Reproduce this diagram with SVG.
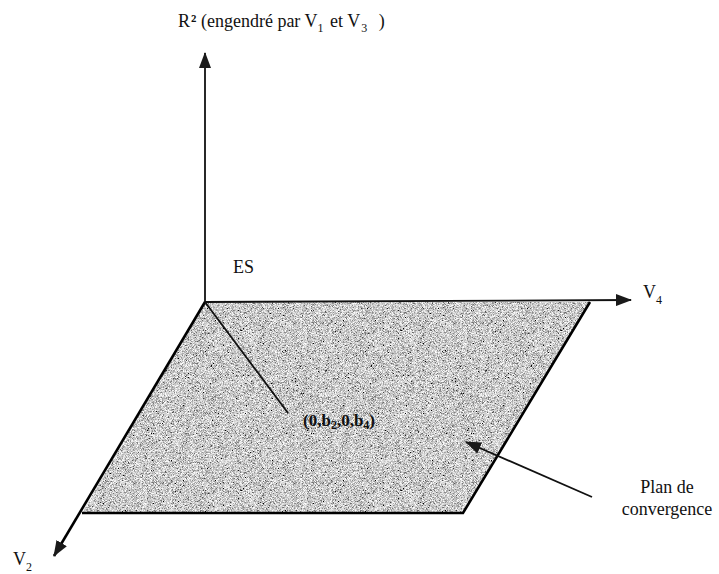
<svg xmlns="http://www.w3.org/2000/svg" width="719" height="574" viewBox="0 0 719 574">
<style>
  .t { font-family: "Liberation Serif", "Times New Roman", serif; font-size: 18px; fill: #111; }
  .sub { font-size: 12px; }
  .lbl { font-family: "Liberation Serif", "Times New Roman", serif; font-size: 17px; font-weight: bold; fill: #111; }
  .ax { stroke: #111; stroke-width: 1.8; fill: none; }
  .edge { stroke: #000; stroke-width: 2.6; fill: none; }
</style>
<defs>
  <marker id="ah" viewBox="0 0 16 12" refX="15" refY="6" markerWidth="16" markerHeight="12" markerUnits="userSpaceOnUse" orient="auto">
    <path d="M0,0 L16,6 L0,12 z" fill="#1a1a1a"/>
  </marker>
  <filter id="grain" x="0" y="0" width="100%" height="100%">
    <feTurbulence type="fractalNoise" baseFrequency="1.6" numOctaves="2" seed="7" result="n"/>
    <feColorMatrix in="n" type="matrix" values="1.9 0 0 0 -0.36  1.9 0 0 0 -0.36  1.9 0 0 0 -0.36  0 0 0 0 1" result="g"/>
    <feComposite in="g" in2="SourceGraphic" operator="in"/>
  </filter>
</defs>

<g id="plan">
  <polygon points="205,302 590,302 463,513 82,513" fill="#9c9c9c" filter="url(#grain)"/>
  <path class="edge" d="M590,302 L463,513 L82,513"/>
</g>

<g id="connectors">
  <line class="ax" x1="205" y1="302" x2="205" y2="53" marker-end="url(#ah)"/>
  <line class="ax" x1="205" y1="302" x2="631" y2="300" stroke-width="2.2" marker-end="url(#ah)"/>
  <line class="edge" x1="205" y1="302" x2="54" y2="556" marker-end="url(#ah)"/>
  <line class="ax" x1="205" y1="302" x2="288" y2="413" stroke-width="2.4"/>
  <line class="ax" x1="592" y1="497" x2="466" y2="442" stroke-width="2.4" marker-end="url(#ah)"/>
</g>

<g id="title">
  <text class="t" x="178" y="27">R<tspan font-weight="bold" font-size="18" dx="1">²</tspan> (engendré par V<tspan class="sub" dy="5">1</tspan><tspan dy="-5" dx="2"> et V</tspan><tspan class="sub" dy="5" dx="1">3</tspan><tspan dy="-5" dx="7"> )</tspan></text>
</g>

<g id="es">
  <text class="t" x="233" y="273">ES</text>
</g>

<g id="v4">
  <text class="t" x="643" y="298">V<tspan class="sub" dy="6">4</tspan></text>
</g>

<g id="v2">
  <text class="t" x="13" y="565">V<tspan class="sub" dy="6">2</tspan></text>
</g>

<g id="point">
  <text class="lbl" x="303" y="426">(0,b<tspan font-size="12" dy="3">2</tspan><tspan dy="-3">,0,b</tspan><tspan font-size="12" dy="3">4</tspan><tspan dy="-3">)</tspan></text>
</g>

<g id="plan-label">
  <text class="t" x="667" y="493" text-anchor="middle">Plan de</text>
  <text class="t" x="667" y="515" text-anchor="middle">convergence</text>
</g>
</svg>
